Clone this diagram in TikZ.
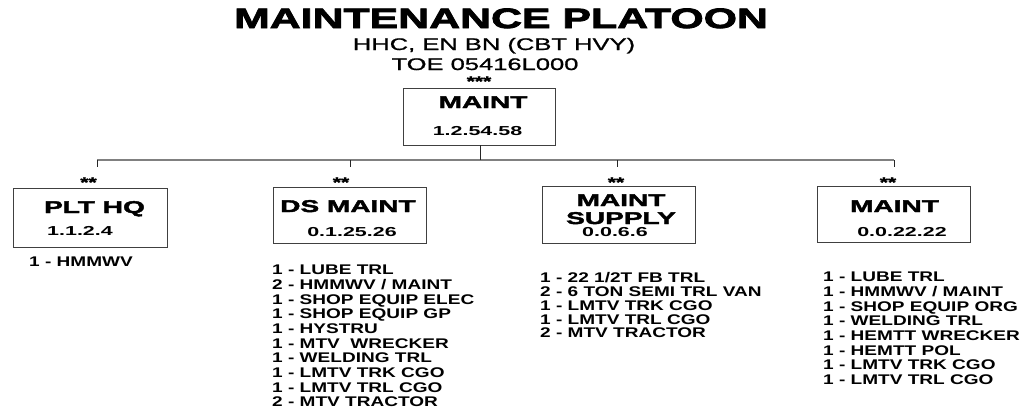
\documentclass[tikz,border=0pt]{standalone}
\usepackage{fontspec}
\setmainfont{Liberation Sans}
\newfontfamily\titlef{Liberation Sans}[FakeStretch=1.53,FakeBold=3]
\newfontfamily\subf{Liberation Sans}[FakeStretch=1.52,FakeBold=1]
\newfontfamily\headf{Liberation Sans}[FakeStretch=1.65,FakeBold=2.5]
\newfontfamily\numf{Liberation Sans}[FakeStretch=1.65]
\newfontfamily\listf{Liberation Sans}[FakeStretch=1.36]
\newfontfamily\starf{Liberation Sans}[FakeStretch=1.5,FakeBold=2]
\begin{document}
\begin{tikzpicture}[x=1pt,y=-1pt,
  box/.style={draw=black!75,line width=0.9pt,inner sep=0pt},
  titletext/.style={font=\titlef\bfseries\fontsize{28}{30}\selectfont,inner sep=0pt,anchor=base},
  subtext/.style={font=\subf\fontsize{16.8}{18}\selectfont,inner sep=0pt,anchor=base},
  headtext/.style={font=\headf\bfseries\fontsize{17}{18}\selectfont,inner sep=0pt,anchor=base},
  numtext/.style={font=\numf\bfseries\fontsize{13}{14}\selectfont,inner sep=0pt,anchor=base},
  listtext/.style={font=\listf\bfseries\fontsize{14}{14.65}\selectfont,inner sep=0pt,anchor=north west,align=left},
  stars/.style={font=\starf\bfseries\fontsize{14}{14}\selectfont,inner sep=0pt,text height=10.2pt,text depth=-6pt,anchor=center},
  busline/.style={draw=black!50,line width=1.8pt},
  tickline/.style={draw=black!85,line width=1pt},
  stemline/.style={draw=black!85,line width=0.9pt}]
\useasboundingbox (0,0) rectangle (1023,413);

% titles
\node[titletext] (title) at (501,28) {MAINTENANCE PLATOON};
\node[subtext] (sub1) at (494,50) {HHC, EN BN (CBT HVY)};
\node[subtext] (sub2) at (485,70) {TOE 05416L000};

% top box
\node[stars] (topstars) at (479,81) {***};
\node[box,minimum width=152pt,minimum height=57pt] (mainbox) at (479,116.5) {};
\node[headtext] (mainhead) at (483,108) {MAINT};
\node[numtext] (mainnum) at (477.5,135) {1.2.54.58};

% connectors
\coordinate (hub) at (480,160);
\coordinate (t1) at (97,160);
\coordinate (t2) at (350,160);
\coordinate (t3) at (617,160);
\coordinate (t4) at (894,160);
\coordinate (e1) at (97,167);
\coordinate (e2) at (350,167);
\coordinate (e3) at (617,167);
\coordinate (e4) at (894,167);
\draw[busline] (t1) -- (t4);
\draw[stemline] (mainbox.south -| hub) -- (hub);
\draw[tickline] (t1) -- (e1);
\draw[tickline] (t2) -- (e2);
\draw[tickline] (t3) -- (e3);
\draw[tickline] (t4) -- (e4);

% PLT HQ
\node[stars] (s1) at (88.5,182) {**};
\node[box,minimum width=154pt,minimum height=59pt] (hqbox) at (90,217.5) {};
\node[headtext] (hqhead) at (94.5,213) {PLT HQ};
\node[numtext] (hqnum) at (80,235) {1.1.2.4};
\node[listtext] (hqlist) at (29,257) {1 - HMMWV};

% DS MAINT
\node[stars] (s2) at (341,182) {**};
\node[box,minimum width=153pt,minimum height=56pt] (dsbox) at (349.5,215) {};
\node[headtext] (dshead) at (348,212) {DS MAINT};
\node[numtext] (dsnum) at (352,236) {0.1.25.26};
\node[listtext] (dslist) at (272,265) {1 - LUBE TRL\\2 - HMMWV / MAINT\\1 - SHOP EQUIP ELEC\\1 - SHOP EQUIP GP\\1 - HYSTRU\\1 - MTV\ \ WRECKER\\1 - WELDING TRL\\1 - LMTV TRK CGO\\1 - LMTV TRL CGO\\2 - MTV TRACTOR};

% MAINT SUPPLY
\node[stars] (s3) at (616,182) {**};
\node[box,minimum width=153pt,minimum height=57pt] (supbox) at (618.5,214.5) {};
\node[headtext] (suphead1) at (621,206) {MAINT};
\node[headtext] (suphead2) at (621,224) {SUPPLY};
\node[numtext] (supnum) at (615,236) {0.0.6.6};
\node[listtext,font=\listf\bfseries\fontsize{14}{13.9}\selectfont] (suplist) at (540,272) {1 - 22 1/2T FB TRL\\2 - 6 TON SEMI TRL VAN\\1 - LMTV TRK CGO\\1 - LMTV TRL CGO\\2 - MTV TRACTOR};

% MAINT (right)
\node[stars] (s4) at (888,182) {**};
\node[box,minimum width=153pt,minimum height=56pt] (mtbox) at (893.5,214) {};
\node[headtext] (mthead) at (894.5,212) {MAINT};
\node[numtext] (mtnum) at (902,236) {0.0.22.22};
\node[listtext] (mtlist) at (823,272) {1 - LUBE TRL\\1 - HMMWV / MAINT\\1 - SHOP EQUIP ORG\\1 - WELDING TRL\\1 - HEMTT WRECKER\\1 - HEMTT POL\\1 - LMTV TRK CGO\\1 - LMTV TRL CGO};
\end{tikzpicture}
\end{document}
